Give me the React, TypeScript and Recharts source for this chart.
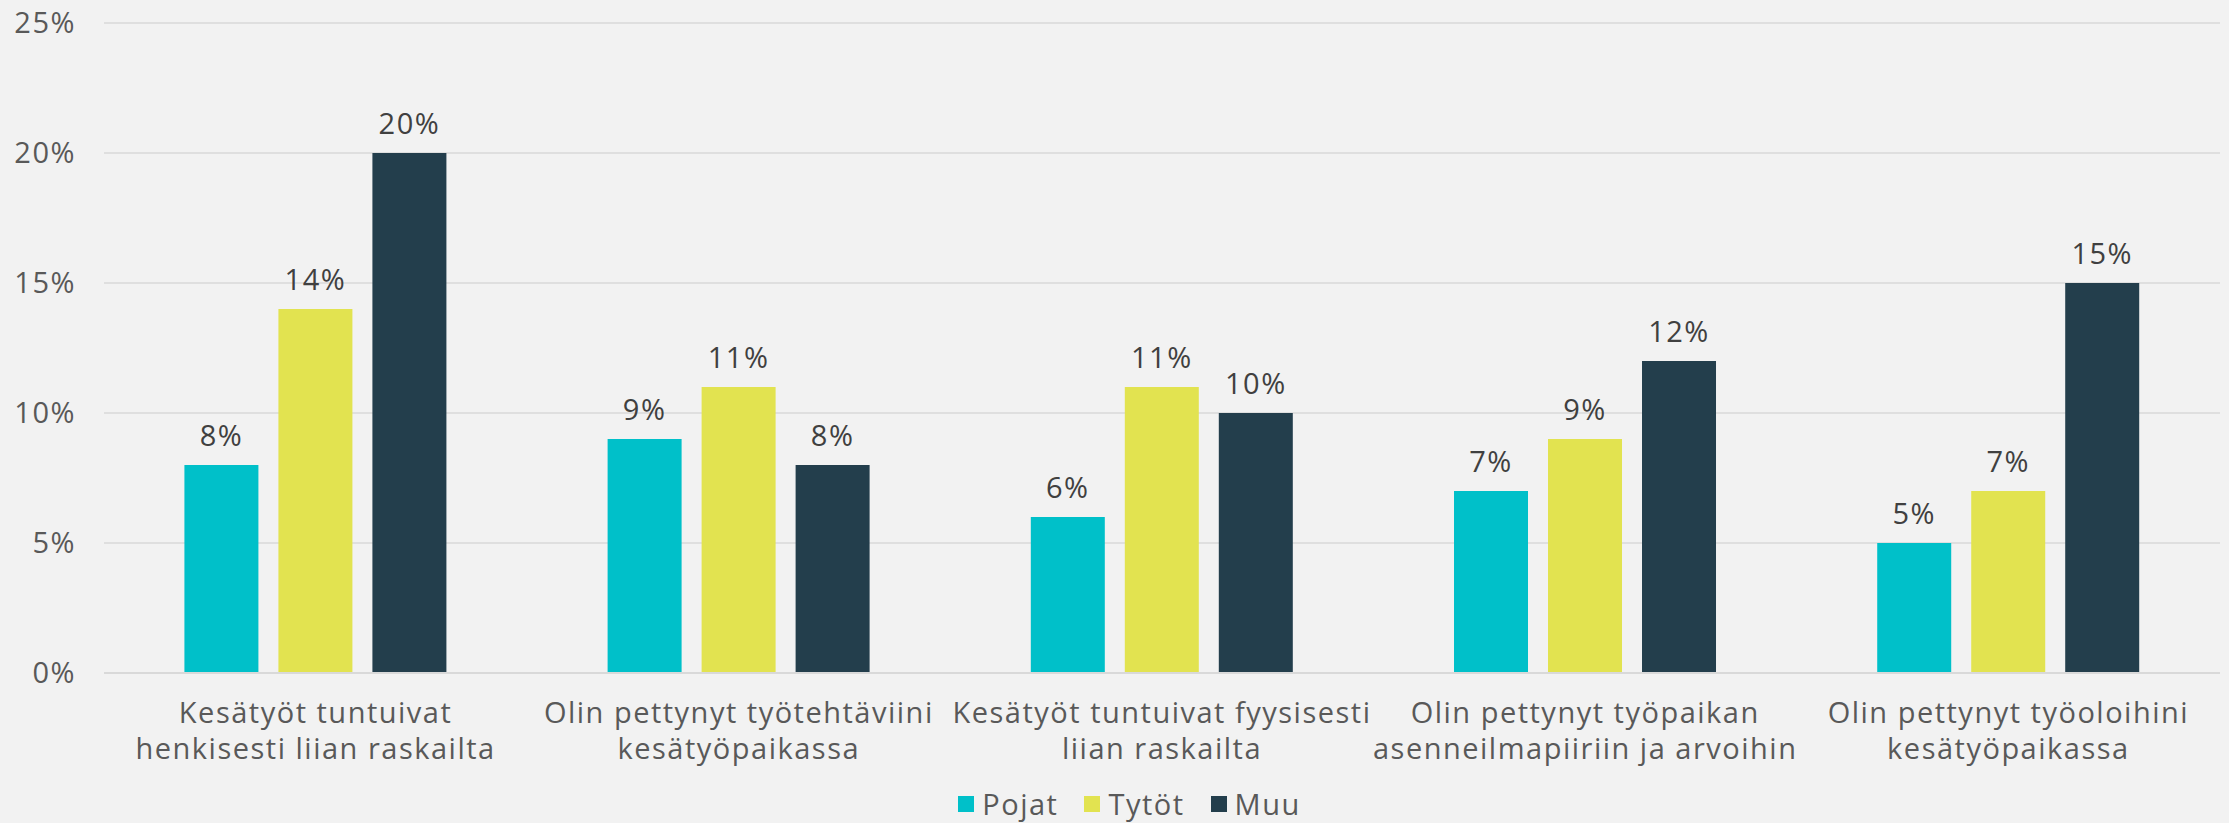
import { BarChart, Bar, XAxis, YAxis, CartesianGrid, Legend, LabelList } from 'recharts'

const categories = [
  'Kesätyöt tuntuivat\nhenkisesti liian raskailta',
  'Olin pettynyt työtehtäviini\nkesätyöpaikassa',
  'Kesätyöt tuntuivat fyysisesti\nliian raskailta',
  'Olin pettynyt työpaikan\nasenneilmapiiriin ja arvoihin',
  'Olin pettynyt työoloihini\nkesätyöpaikassa',
]
const seriesNames = ['Pojat', 'Tytöt', 'Muu']
const pojat = [8, 9, 6, 7, 5]
const tytot = [14, 11, 11, 9, 7]
const muu = [20, 8, 10, 12, 15]
const yTicks = [0, 5, 10, 15, 20, 25]

const data = categories.map((name, i) => ({ name, Pojat: pojat[i], Tytöt: tytot[i], Muu: muu[i] }))

const FONT = '"Open Sans", sans-serif'
const SPACING = 1.5
const colors: Record<string, string> = { Pojat: '#00C0C9', Tytöt: '#E2E350', Muu: '#233E4C' }

const CategoryTick = ({ x, y, payload }: any) => {
  const lines = String(payload.value).split('\n')
  return (
    <text x={x} y={y} textAnchor="middle" fill="#595959" fontSize={29} fontFamily={FONT} letterSpacing={SPACING}>
      {lines.map((l, i) => (
        <tspan key={i} x={x} dy={i === 0 ? 48 : 36}>{l}</tspan>
      ))}
    </text>
  )
}

const LegendContent = ({ payload }: any) => {
  const items = [...(payload || [])].sort((a: any, b: any) => seriesNames.indexOf(a.value) - seriesNames.indexOf(b.value))
  return (
    <div style={{ display: 'flex', justifyContent: 'center', alignItems: 'flex-end', height: 40, paddingLeft: 30, fontFamily: FONT, fontSize: 29, letterSpacing: SPACING, color: '#595959' }}>
      {items.map((p: any) => (
        <div key={p.value} style={{ display: 'flex', alignItems: 'center', margin: '0 13px' }}>
          <span style={{ width: 16, height: 16, background: p.color, marginRight: 8, display: 'inline-block' }} />
          <span>{p.value}</span>
        </div>
      ))}
    </div>
  )
}

export default function App() {
  const label = { position: 'top' as const, offset: 19, fill: '#404040', fontSize: 29, fontFamily: FONT, letterSpacing: SPACING, formatter: (v: number) => `${v}%` }
  return (
    <div style={{ width: 2229, height: 823, background: '#F2F2F2' }}>
      <style>{`body{margin:0;background:#F2F2F2}`}</style>
      <BarChart width={2229} height={823} data={data} margin={{ top: 23, right: 9, left: 0, bottom: 0 }} barGap={20} barCategoryGap="19%">
        <CartesianGrid vertical={false} stroke="#D9D9D9" strokeWidth={1.5} />
        <XAxis dataKey="name" tick={<CategoryTick />} tickLine={false} axisLine={{ stroke: '#D9D9D9', strokeWidth: 2 }} interval={0} tickSize={0} height={110} />
        <YAxis domain={[0, 25]} ticks={yTicks} tickFormatter={(v) => `${v}%`} width={104} axisLine={false} tickLine={false} tickSize={0} tickMargin={28}
          tick={{ fill: '#595959', fontSize: 29, fontFamily: FONT, letterSpacing: SPACING }} />
        <Legend content={<LegendContent />} wrapperStyle={{ left: 0, width: 2229, height: 40 }} />
        {seriesNames.map((s) => (
          <Bar key={s} dataKey={s} fill={colors[s]} isAnimationActive={false}>
            <LabelList dataKey={s} {...label} />
          </Bar>
        ))}
      </BarChart>
    </div>
  )
}
